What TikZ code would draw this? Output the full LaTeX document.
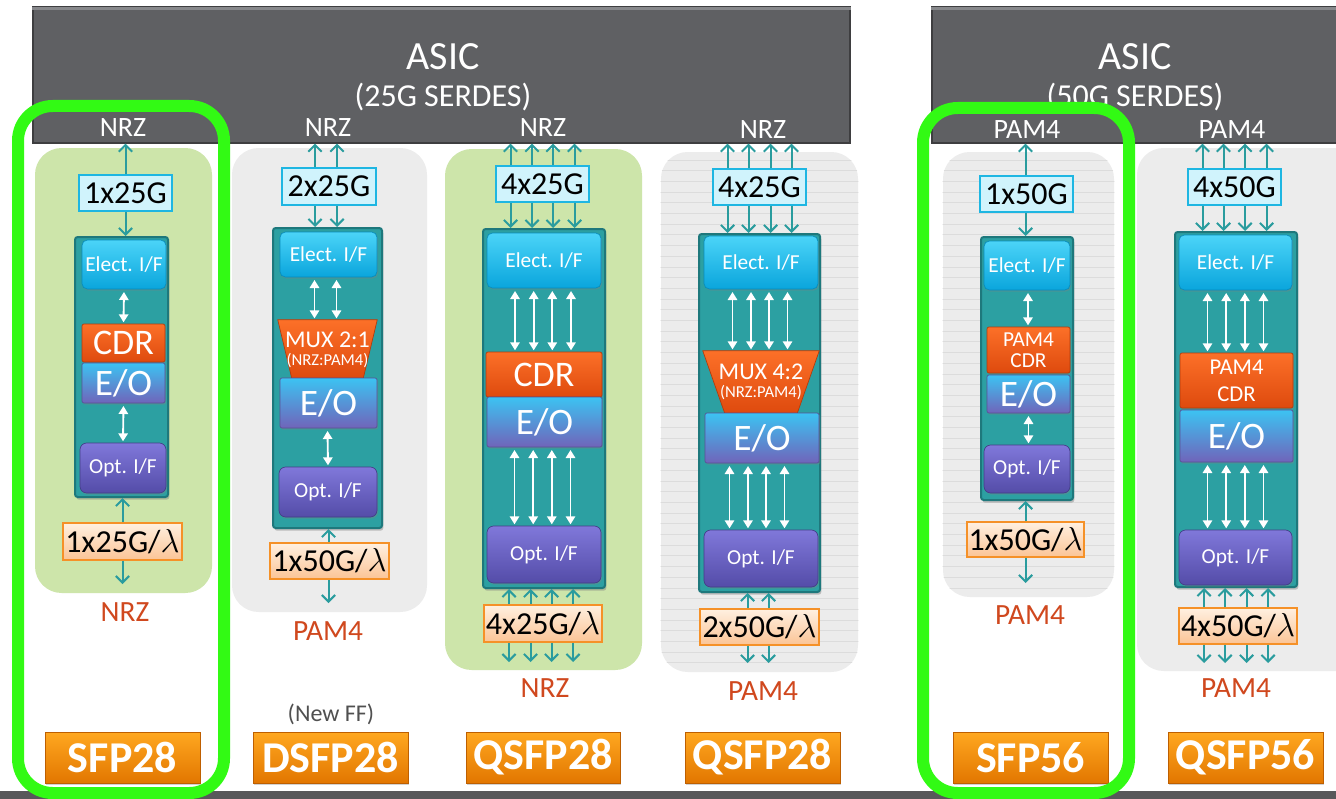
\documentclass[tikz,border=0pt]{standalone}
\usepackage{fontspec}
\setmainfont{Carlito}
\usetikzlibrary{arrows.meta,shadows,calc}

\newdimen\pxu \pxu=0.75pt
\newcommand\fsz[2]{\fontsize{#1pt}{#2pt}\selectfont}
% block from corner (x1,y1) to (x2,y2), in pixel units
\newcommand\blk[7]{\node[#6, minimum width={(#4-#2)*\pxu}, minimum height={(#5-#3)*\pxu}, inner sep=0pt] (#1) at ({(#2+#4)/2},{(#3+#5)/2}) {#7};}

\definecolor{asicgray}{RGB}{95,96,99}
\definecolor{asictop}{RGB}{135,136,139}
\definecolor{asicedge}{RGB}{62,62,64}
\definecolor{panelgreen}{RGB}{205,229,170}
\definecolor{panelgray}{RGB}{236,236,236}
\definecolor{stripe}{RGB}{220,220,220}
\definecolor{modteal}{RGB}{44,160,162}
\definecolor{modedge}{RGB}{30,120,124}
\definecolor{lanecol}{RGB}{42,156,158}
\definecolor{eitop}{RGB}{75,212,248}
\definecolor{eibot}{RGB}{10,165,220}
\definecolor{cdrtop}{RGB}{252,112,40}
\definecolor{cdrbot}{RGB}{222,74,14}
\definecolor{eotop}{RGB}{60,195,242}
\definecolor{eobot}{RGB}{112,100,186}
\definecolor{oitop}{RGB}{128,120,218}
\definecolor{oibot}{RGB}{84,76,168}
\definecolor{ratefill}{RGB}{208,243,252}
\definecolor{rateedge}{RGB}{30,182,226}
\definecolor{lamtop}{RGB}{255,240,224}
\definecolor{lambot}{RGB}{251,196,150}
\definecolor{lamedge}{RGB}{245,145,40}
\definecolor{btntop}{RGB}{255,168,32}
\definecolor{btnbot}{RGB}{226,118,0}
\definecolor{btnedge}{RGB}{190,95,0}
\definecolor{ringgreen}{RGB}{50,250,20}
\definecolor{labred}{RGB}{208,72,30}
\definecolor{bargray}{RGB}{88,88,90}
\definecolor{notegray}{RGB}{80,80,80}

\begin{document}
\begin{tikzpicture}[x=0.75pt,y=-0.75pt,
  asicbox/.style={rectangle, fill=asicgray, draw=asicedge, line width=0.8pt},
  panelG/.style={rectangle, rounded corners=20pt, fill=panelgreen},
  panelW/.style={rectangle, rounded corners=20pt, fill=panelgray},
  module/.style={rectangle, rounded corners=2pt, fill=modteal, draw=modedge, line width=1.5pt,
    drop shadow={shadow xshift=1pt, shadow yshift=-2pt, opacity=0.45}},
  blockbase/.style={rectangle, text=white, line width=0.5pt,
    drop shadow={shadow xshift=0.8pt, shadow yshift=-1.2pt, opacity=0.35}},
  eibox/.style={blockbase, rounded corners=4pt, top color=eitop, bottom color=eibot, draw=eibot!85!black, font=\fsz{16}{18}},
  cdrbox/.style={blockbase, rounded corners=1.5pt, top color=cdrtop, bottom color=cdrbot, draw=cdrbot!80!black, font=\fsz{27}{30}},
  pcdrbox/.style={blockbase, rounded corners=1.5pt, top color=cdrtop, bottom color=cdrbot, draw=cdrbot!80!black, align=center},
  eobox/.style={blockbase, rounded corners=1.5pt, top color=eotop, bottom color=eobot, draw=eobot!80!black, font=\fsz{28}{30}},
  oibox/.style={blockbase, rounded corners=5pt, top color=oitop, bottom color=oibot, draw=oibot!80!black, font=\fsz{16}{18}},
  muxshape/.style={top color=cdrtop, bottom color=cdrbot, draw=cdrbot!80!black, line width=0.5pt},
  muxtext/.style={text=white, align=center, inner sep=0pt},
  ratebox/.style={rectangle, fill=ratefill, draw=rateedge, line width=1.3pt, font=\fsz{24}{26}, text=black},
  lambox/.style={rectangle, top color=lamtop, bottom color=lambot, draw=lamedge, line width=1.3pt, font=\fsz{24}{26}, text=black},
  btn/.style={rectangle, top color=btntop, bottom color=btnbot, draw=btnedge, line width=0.6pt, text=white,
    font=\fsz{33}{35}\bfseries, drop shadow={shadow xshift=1pt, shadow yshift=-1.5pt, opacity=0.35}},
  toplab/.style={text=white, font=\fsz{21}{22}},
  botlab/.style={text=labred, font=\fsz{22}{24}},
  asictext/.style={text=white, font=\fsz{30}{32}},
  serdestext/.style={text=white, font=\fsz{24}{26}},
  ring/.style={rectangle, draw=ringgreen, line width=9pt, rounded corners=26pt},
  lane/.style={draw=lanecol, line width=1.5pt, -{Straight Barb[length=5pt,width=10pt]}},
  wlink/.style={draw=white, line width=1.4pt, {Triangle[length=6pt,width=7pt]}-{Triangle[length=6pt,width=7pt]},
    shorten <=2pt, shorten >=1pt}
]
\useasboundingbox (0,0) rectangle (1336,799);
\fill[white] (0,0) rectangle (1336,799);

% ---------------- ASIC blocks ----------------
\blk{asicL}{33}{7}{850}{143}{asicbox}{}
\blk{asicR}{932}{7}{1350}{143}{asicbox}{}
\draw[asictop, line width=2.5pt] ([yshift=-1.5pt]asicL.north west) -- ([yshift=-1.5pt]asicL.north east);
\draw[asictop, line width=2.5pt] ([yshift=-1.5pt]asicR.north west) -- ([yshift=-1.5pt]asicR.north east);
\node[asictext] (asicLt) at (443,57) {ASIC};
\node[serdestext] (asicLs) at (443,97) {(25G SERDES)};
\node[asictext] (asicRt) at (1135,57) {ASIC};
\node[serdestext] (asicRs) at (1135,97) {(50G SERDES)};

% ---------------- background panels ----------------
\blk{p1}{35}{148}{212}{593}{panelG}{}
\blk{p2}{232}{148}{427}{612}{panelW}{}
\blk{p3}{445}{149}{642}{670}{panelG}{}
\blk{p4}{661}{152}{858}{672}{panelW}{}
\blk{p5}{943}{152}{1114}{597}{panelW}{}
\blk{p6}{1137}{148}{1370}{671}{panelW}{}
\begin{scope}
  \clip[rounded corners=20pt] (p4.south west) rectangle (p4.north east);
  \foreach \y in {160,170.7,...,672} \draw[stripe, line width=0.7pt] (655,\y) -- (865,\y);
\end{scope}
\begin{scope}
  \clip[rounded corners=20pt] (p5.south west) rectangle (p5.north east);
  \foreach \y in {160,170.7,...,597} \draw[stripe, line width=0.7pt] (938,\y) -- (1120,\y);
\end{scope}

% ---------------- column 1: SFP28 ----------------
\blk{m1}{75}{237}{168}{497}{module}{}
\blk{c1ei}{82}{240}{166}{289}{eibox}{Elect. I/F}
\blk{c1cdr}{82}{324}{165}{362}{cdrbox}{CDR}
\blk{c1eo}{82}{363}{165}{403}{eobox}{E/O}
\blk{c1oi}{80}{443}{166}{493}{oibox}{Opt. I/F}
\blk{c1rate}{79}{175}{172}{211}{ratebox}{1x25G}
\blk{c1lam}{63}{523}{182}{560}{lambox}{1x25G/$\lambda$}
\coordinate (c1end) at (123,584);
\draw[lane] (c1rate.north) -- (c1rate.north |- asicL.south);
\draw[lane] (c1rate.south) -- (c1rate.south |- m1.north);
\draw[wlink] (c1ei.south) -- (c1cdr.north);
\draw[wlink] (c1eo.south) -- (c1oi.north);
\draw[lane] (c1lam.north) -- (c1lam.north |- m1.south);
\draw[lane] (c1lam.south) -- (c1lam.south |- c1end);
\node[toplab] (c1top) at (123,128) {NRZ};
\node[botlab] (c1bot) at (125,612) {NRZ};
\blk{c1btn}{45}{732}{200}{783}{btn}{SFP28}

% ---------------- column 2: DSFP28 ----------------
\blk{m2}{273}{228}{382}{528}{module}{}
\blk{c2ei}{280}{232}{377}{277}{eibox}{Elect. I/F}
\blk{c2mux}{278}{320}{377}{378}{rectangle}{}
\path[muxshape] (c2mux.north west) -- (c2mux.north east) -- ($(c2mux.south east)+(-14,0)$) -- ($(c2mux.south west)+(14,0)$) -- cycle;
\node[muxtext] (c2muxt) at ($(c2mux.center)+(0,1)$) {{\fsz{18}{19}MUX 2:1}\\[1pt]{\fsz{12.5}{13}(NRZ:PAM4)}};
\blk{c2eo}{280}{378}{377}{428}{eobox}{E/O}
\blk{c2oi}{279}{467}{377}{517}{oibox}{Opt. I/F}
\blk{c2rate}{282}{168}{376}{205}{ratebox}{2x25G}
\blk{c2lam}{270}{543}{389}{579}{lambox}{1x50G/$\lambda$}
\coordinate (c2end) at (328,603);
\foreach \d in {-14,8} {
  \draw[lane] ($(c2rate.north)+(\d,0)$) -- ($(c2rate.north |- asicL.south)+(\d,0)$);
  \draw[lane] ($(c2rate.south)+(\d,0)$) -- ($(c2rate.south |- m2.north)+(\d,0)$);
  \draw[wlink] ($(c2ei.south)+(\d,0)$) -- ($(c2ei.south |- c2mux.north)+(\d,0)$);
}
\draw[wlink] ($(c2eo.south)+(-1,0)$) -- ($(c2oi.north)+(0,0)$);
\draw[lane] ($(c2lam.north)+(-1,0)$) -- ($(c2lam.north |- m2.south)+(-1,0)$);
\draw[lane] ($(c2lam.south)+(-1,0)$) -- ($(c2lam.south |- c2end)+(-1,0)$);
\node[toplab] (c2top) at (328,128) {NRZ};
\node[botlab] (c2bot) at (328,631) {PAM4};
\node[text=notegray, font=\fsz{18}{19}] (c2note) at (331,714) {(New FF)};
\blk{c2btn}{253}{732}{408}{783}{btn}{DSFP28}

% ---------------- column 3: QSFP28 (NRZ) ----------------
\blk{m3}{483}{229}{605}{588}{module}{}
\blk{c3ei}{487}{233}{601}{288}{eibox}{Elect. I/F}
\blk{c3cdr}{486}{352}{602}{397}{cdrbox}{CDR}
\blk{c3eo}{487}{397}{602}{447}{eobox}{E/O}
\blk{c3oi}{487}{526}{601}{583}{oibox}{Opt. I/F}
\blk{c3rate}{496}{166}{589}{202}{ratebox}{4x25G}
\blk{c3lam}{484}{605}{602}{642}{lambox}{4x25G/$\lambda$}
\coordinate (c3end) at (543,662);
\foreach \d in {-32,-10.5,10.5,32} {
  \draw[lane] ($(c3rate.north)+(\d,0)$) -- ($(c3rate.north |- asicL.south)+(\d,0)$);
  \draw[lane] ($(c3rate.south)+(\d,0)$) -- ($(c3rate.south |- m3.north)+(\d,0)$);
  \draw[lane] ($(c3lam.north)+(\d-2,0)$) -- ($(c3lam.north |- m3.south)+(\d-2,0)$);
  \draw[lane] ($(c3lam.south)+(\d-2,0)$) -- ($(c3lam.south |- c3end)+(\d-2,0)$);
}
\foreach \d in {-28,-9.3,9.3,28} {
  \draw[wlink] ($(c3ei.south)+(\d-1,0)$) -- ($(c3ei.south |- c3cdr.north)+(\d-1,0)$);
  \draw[wlink] ($(c3eo.south)+(\d-2,0)$) -- ($(c3eo.south |- c3oi.north)+(\d-2,0)$);
}
\node[toplab] (c3top) at (543,128) {NRZ};
\node[botlab] (c3bot) at (545,688) {NRZ};
\blk{c3btn}{466}{732}{620}{783}{btn}{QSFP28}

% ---------------- column 4: QSFP28 (PAM4) ----------------
\blk{m4}{699}{234}{820}{592}{module}{}
\blk{c4ei}{704}{236}{818}{289}{eibox}{Elect. I/F}
\blk{c4mux}{703}{351}{819}{413}{rectangle}{}
\path[muxshape] (c4mux.north west) -- (c4mux.north east) -- ($(c4mux.south east)+(-22,0)$) -- ($(c4mux.south west)+(22,0)$) -- cycle;
\node[muxtext] (c4muxt) at ($(c4mux.center)+(0,0)$) {{\fsz{18}{19}MUX 4:2}\\[1pt]{\fsz{12.5}{13}(NRZ:PAM4)}};
\blk{c4eo}{705}{413}{819}{463}{eobox}{E/O}
\blk{c4oi}{704}{530}{818}{587}{oibox}{Opt. I/F}
\blk{c4rate}{713}{169}{806}{205}{ratebox}{4x25G}
\blk{c4lam}{700}{609}{819}{645}{lambox}{2x50G/$\lambda$}
\coordinate (c4end) at (759,663);
\foreach \d in {-32,-11,11,32} {
  \draw[lane] ($(c4rate.north)+(\d,0)$) -- ($(c4rate.north |- asicL.south)+(\d,0)$);
  \draw[lane] ($(c4rate.south)+(\d,0)$) -- ($(c4rate.south |- m4.north)+(\d,0)$);
}
\foreach \d in {-27.5,-9,9,27.5} {
  \draw[wlink] ($(c4ei.south)+(\d-1,0)$) -- ($(c4ei.south |- c4mux.north)+(\d-1,0)$);
  \draw[wlink] ($(c4eo.south)+(\d-5,0)$) -- ($(c4eo.south |- c4oi.north)+(\d-5,0)$);
}
\foreach \d in {-12,9} {
  \draw[lane] ($(c4lam.north)+(\d,0)$) -- ($(c4lam.north |- m4.south)+(\d,0)$);
  \draw[lane] ($(c4lam.south)+(\d,0)$) -- ($(c4lam.south |- c4end)+(\d,0)$);
}
\node[toplab] (c4top) at (763,130) {NRZ};
\node[botlab] (c4bot) at (763,691) {PAM4};
\blk{c4btn}{685}{732}{840}{783}{btn}{QSFP28}

% ---------------- column 5: SFP56 ----------------
\blk{m5}{981}{237}{1073}{500}{module}{}
\blk{c5ei}{984}{241}{1070}{290}{eibox}{Elect. I/F}
\blk{c5cdr}{987}{327}{1070}{373}{pcdrbox, font=\fsz{16}{16}}{PAM4\\CDR}
\blk{c5eo}{987}{375}{1070}{413}{eobox}{E/O}
\blk{c5oi}{984}{445}{1070}{493}{oibox}{Opt. I/F}
\blk{c5rate}{980}{176}{1073}{212}{ratebox}{1x50G}
\blk{c5lam}{967}{522}{1084}{557}{lambox}{1x50G/$\lambda$}
\coordinate (c5end) at (1025,583);
\draw[lane] ($(c5rate.north)+(-1,0)$) -- ($(c5rate.north |- asicR.south)+(-1,0)$);
\draw[lane] ($(c5rate.south)+(-1,0)$) -- ($(c5rate.south |- m5.north)+(-1,0)$);
\draw[wlink] ($(c5ei.south)+(1,0)$) -- ($(c5ei.south |- c5cdr.north)+(1,0)$);
\draw[wlink] ($(c5eo.south)+(0,0)$) -- ($(c5eo.south |- c5oi.north)+(0,0)$);
\draw[lane] (c5lam.north) -- (c5lam.north |- m5.south);
\draw[lane] (c5lam.south) -- (c5lam.south |- c5end);
\node[toplab] (c5top) at (1027,130) {PAM4};
\node[botlab] (c5bot) at (1030,615) {PAM4};
\blk{c5btn}{953}{732}{1108}{783}{btn}{SFP56}

% ---------------- column 6: QSFP56 ----------------
\blk{m6}{1175}{232}{1297}{587}{module}{}
\blk{c6ei}{1179}{235}{1292}{290}{eibox}{Elect. I/F}
\blk{c6cdr}{1180}{353}{1293}{408}{pcdrbox, font=\fsz{17}{20}}{PAM4\\CDR}
\blk{c6eo}{1180}{410}{1293}{462}{eobox}{E/O}
\blk{c6oi}{1179}{530}{1292}{585}{oibox}{Opt. I/F}
\blk{c6rate}{1188}{169}{1281}{205}{ratebox}{4x50G}
\blk{c6lam}{1179}{608}{1297}{644}{lambox}{4x50G/$\lambda$}
\coordinate (c6end) at (1236,663);
\foreach \d in {-32,-11,10.5,32} {
  \draw[lane] ($(c6rate.north)+(\d,0)$) -- ($(c6rate.north |- asicR.south)+(\d,0)$);
  \draw[lane] ($(c6rate.south)+(\d,0)$) -- ($(c6rate.south |- m6.north)+(\d,0)$);
  \draw[lane] ($(c6lam.north)+(\d-2,0)$) -- ($(c6lam.north |- m6.south)+(\d-2,0)$);
  \draw[lane] ($(c6lam.south)+(\d-2,0)$) -- ($(c6lam.south |- c6end)+(\d-2,0)$);
}
\foreach \d in {-28,-9.3,9.3,28} {
  \draw[wlink] ($(c6ei.south)+(\d,0)$) -- ($(c6ei.south |- c6cdr.north)+(\d,0)$);
  \draw[wlink] ($(c6eo.south)+(\d-1,0)$) -- ($(c6eo.south |- c6oi.north)+(\d-1,0)$);
}
\node[toplab] (c6top) at (1232,130) {PAM4};
\node[botlab] (c6bot) at (1236,688) {PAM4};
\blk{c6btn}{1168}{732}{1323}{783}{btn}{QSFP56}

% ---------------- footer bar and highlight rings ----------------
\fill[bargray] (0,791) rectangle (1336,799);
\blk{hl1}{18}{106}{224}{793}{ring}{}
\blk{hl2}{923}{108}{1129}{793}{ring}{}
\end{tikzpicture}
\end{document}
